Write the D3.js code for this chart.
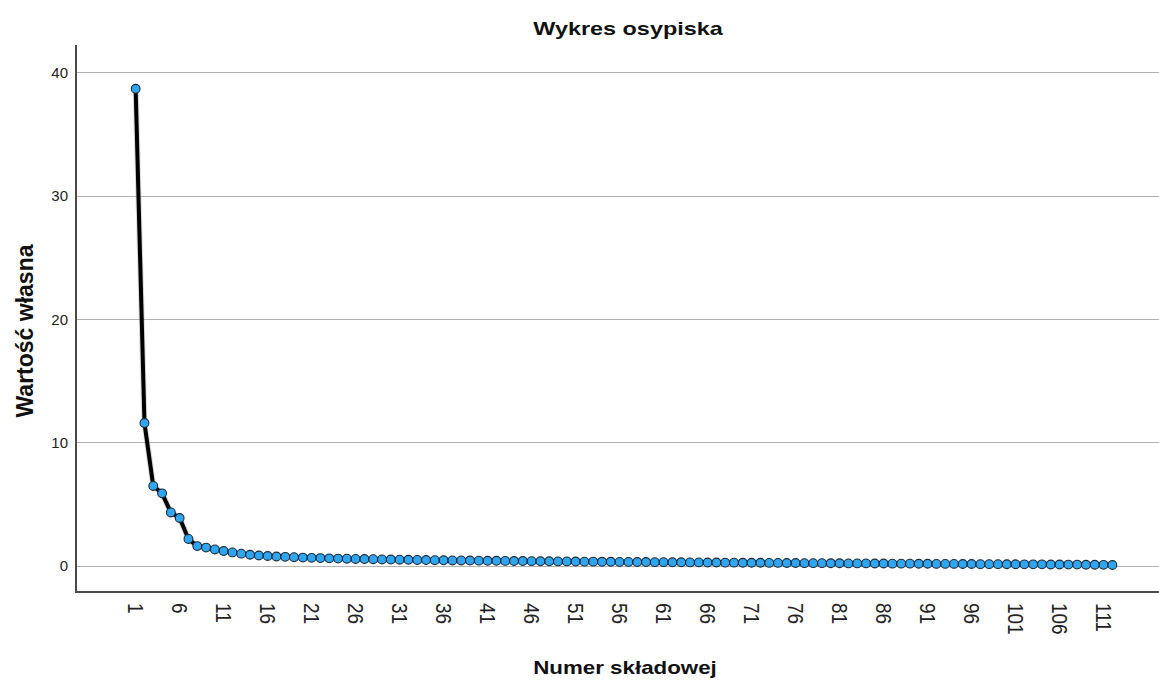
<!DOCTYPE html>
<html><head><meta charset="utf-8">
<script src="https://cdn.jsdelivr.net/npm/d3@7"></script>
<style>body{margin:0;background:#fff} svg{display:block}</style>
</head><body><svg id="c" width="1159" height="680"></svg>
<script>
const eigenvalues = [
  38.7, 11.6, 6.5, 5.9, 4.35, 3.9, 2.2, 1.62, 1.5, 1.35,
  1.22, 1.11, 1.01, 0.92, 0.86, 0.82, 0.78, 0.75, 0.72, 0.69,
  0.67, 0.65, 0.63, 0.61, 0.60, 0.58, 0.57, 0.56, 0.54, 0.53,
  0.52, 0.51, 0.50, 0.49, 0.48, 0.47, 0.46, 0.46, 0.45, 0.44,
  0.43, 0.43, 0.42, 0.41, 0.41, 0.40, 0.39, 0.39, 0.38, 0.38,
  0.37, 0.36, 0.36, 0.35, 0.35, 0.34, 0.34, 0.33, 0.33, 0.32,
  0.32, 0.31, 0.31, 0.30, 0.30, 0.29, 0.29, 0.28, 0.28, 0.27,
  0.27, 0.27, 0.26, 0.26, 0.25, 0.25, 0.24, 0.24, 0.24, 0.23,
  0.23, 0.22, 0.22, 0.22, 0.21, 0.21, 0.20, 0.20, 0.20, 0.19,
  0.19, 0.18, 0.18, 0.18, 0.17, 0.17, 0.16, 0.16, 0.16, 0.15,
  0.15, 0.14, 0.14, 0.14, 0.13, 0.13, 0.12, 0.12, 0.11, 0.11,
  0.10, 0.09
];
const components = eigenvalues.map((d, i) => i + 1);
const xTickValues = [1, 6, 11, 16, 21, 26, 31, 36, 41, 46, 51, 56, 61, 66, 71, 76, 81, 86, 91, 96, 101, 106, 111];
const yTickValues = [0, 10, 20, 30, 40];
const chartTitle = "Wykres osypiska";
const xTitle = "Numer składowej";
const yTitle = "Wartość własna";

const svg = d3.select("#c");
const font = "'Liberation Sans', Arial, sans-serif";
const plot = {left: 76, right: 1159, top: 45, bottom: 592};

const x = d3.scaleLinear().domain([-5.78, 117.3]).range([plot.left, plot.right]);
const y = d3.scaleLinear().domain([-2.1, 42.25]).range([plot.bottom, plot.top]);

// gridlines
svg.append("g").selectAll("line").data(yTickValues).join("line")
  .attr("x1", plot.left).attr("x2", plot.right)
  .attr("y1", d => y(d)).attr("y2", d => y(d))
  .attr("stroke", "#b3b3b3").attr("stroke-width", 1).attr("shape-rendering", "crispEdges");

// y axis labels
const yAxis = svg.append("g").attr("transform", `translate(${plot.left},0)`)
  .call(d3.axisLeft(y).tickValues(yTickValues).tickSize(0).tickPadding(8).tickFormat(d3.format("d")));
yAxis.select(".domain").remove();
yAxis.selectAll("text").attr("font-family", font).attr("font-size", 15).attr("fill", "#222");

// x axis labels (rotated)
const xAxis = svg.append("g").attr("transform", `translate(0,${plot.bottom})`)
  .call(d3.axisBottom(x).tickValues(xTickValues).tickSize(0).tickFormat(d3.format("d")));
xAxis.select(".domain").remove();
xAxis.selectAll("text")
  .attr("font-family", font).attr("font-size", 19).attr("fill", "#222")
  .attr("text-anchor", "start")
  .attr("x", 0).attr("y", 0).attr("dy", "0.35em")
  .attr("transform", "translate(0,11) rotate(90) scale(1,1.2)");

// axis lines
svg.append("line").attr("x1", plot.left).attr("x2", plot.left).attr("y1", plot.top).attr("y2", plot.bottom + 1)
  .attr("stroke", "#4a4a4a").attr("stroke-width", 2);
svg.append("line").attr("x1", plot.left - 1).attr("x2", plot.right).attr("y1", plot.bottom).attr("y2", plot.bottom)
  .attr("stroke", "#4a4a4a").attr("stroke-width", 2);

// line
const line = d3.line().x((d, i) => x(components[i])).y(d => y(d));
svg.append("path").datum(eigenvalues).attr("d", line)
  .attr("fill", "none").attr("stroke", "#999").attr("stroke-opacity", 0.35).attr("stroke-width", 6)
  .attr("stroke-linejoin", "round");
svg.append("path").datum(eigenvalues).attr("d", line)
  .attr("fill", "none").attr("stroke", "#000").attr("stroke-width", 4)
  .attr("stroke-linejoin", "round");

// points
svg.append("g").selectAll("circle").data(eigenvalues).join("circle")
  .attr("cx", (d, i) => x(components[i])).attr("cy", d => y(d))
  .attr("r", 4.4)
  .attr("fill", "#2fa6f2").attr("stroke", "#1b2a3a").attr("stroke-width", 1.1);

// titles
svg.append("text").attr("transform", "translate(628,35) scale(1.3,1)").attr("text-anchor", "middle")
  .attr("font-family", font).attr("font-weight", "bold").attr("font-size", 18).attr("fill", "#111")
  .text(chartTitle);
svg.append("text").attr("transform", "translate(625,674) scale(1.24,1)").attr("text-anchor", "middle")
  .attr("font-family", font).attr("font-weight", "bold").attr("font-size", 18).attr("fill", "#111")
  .text(xTitle);
svg.append("text").attr("transform", "translate(33,331) rotate(-90)").attr("text-anchor", "middle")
  .attr("font-family", font).attr("font-weight", "bold").attr("font-size", 23).attr("fill", "#111")
  .text(yTitle);
</script></body></html>
